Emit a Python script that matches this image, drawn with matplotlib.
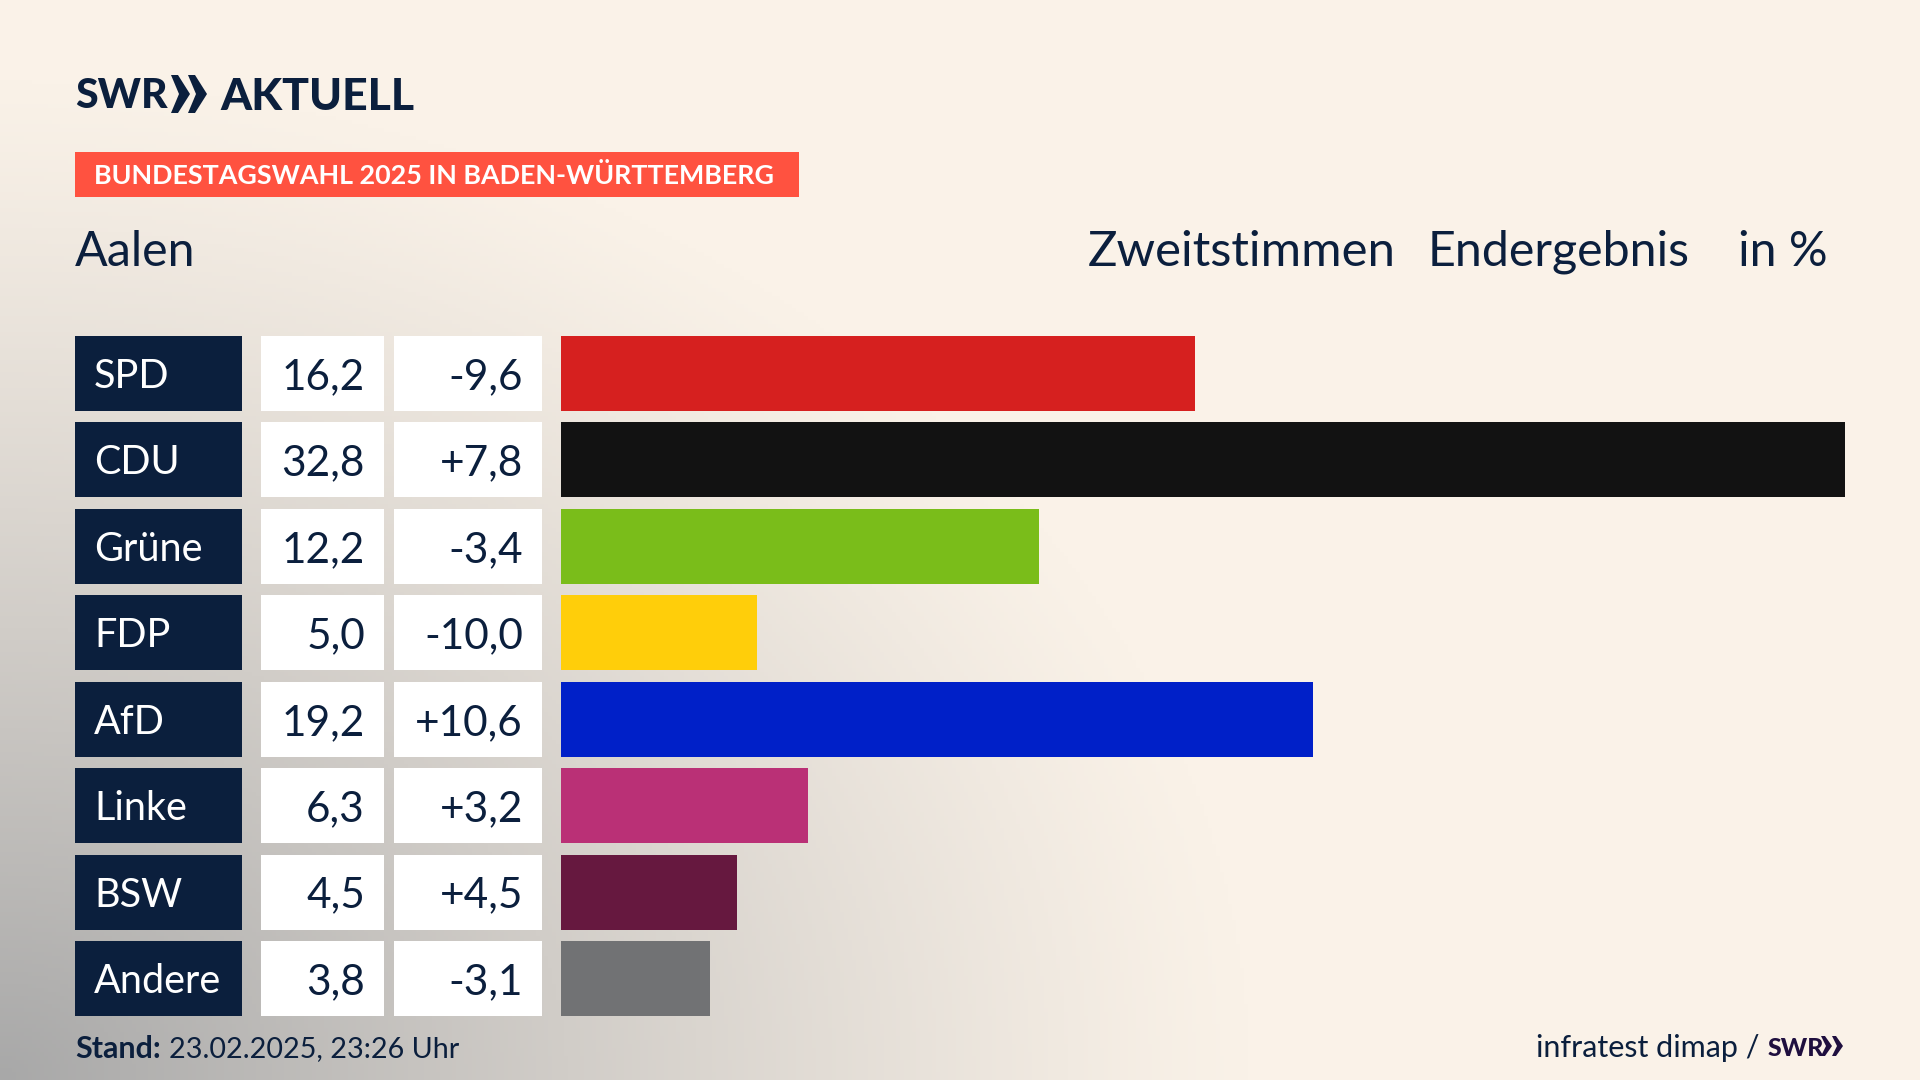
import numpy as np
import matplotlib
matplotlib.use("Agg")
import matplotlib.pyplot as plt
from matplotlib.patches import Rectangle, Polygon

parties = ["SPD", "CDU", "Grüne", "FDP", "AfD", "Linke", "BSW", "Andere"]
shares = [16.2, 32.8, 12.2, 5.0, 19.2, 6.3, 4.5, 3.8]
changes = [-9.6, 7.8, -3.4, -10.0, 10.6, 3.2, 4.5, -3.1]
colors = ["#D6201F", "#121212", "#7ABD1A", "#FFCE0A", "#0020C8", "#BA3076", "#66183F", "#717274"]

NAVY = "#0B1F3D"
W, H = 1920, 1080
plt.rcParams["font.family"] = ["Lato", "DejaVu Sans"]


def de(v, signed=False):
    s = f"{v:+.1f}" if signed else f"{v:.1f}"
    return s.replace(".", ",")


fig = plt.figure(figsize=(W / 100, H / 100), dpi=100)
bg = fig.add_axes([0, 0, 1, 1])
bg.set_xlim(0, W)
bg.set_ylim(H, 0)
bg.axis("off")

# soft backdrop: grey glow from the bottom-left corner
yy, xx = np.mgrid[0:H:270j, 0:W:480j]
d = np.sqrt((xx / 1250) ** 2 + ((H - yy) / 1000) ** 2)
t = np.clip(1 - d, 0, 1) ** 1.15
base = np.array([250, 242, 232]) / 255
grey = np.array([168, 168, 168]) / 255
img = base + (grey - base) * t[..., None]
bg.imshow(img, extent=[0, W, H, 0], aspect="auto", zorder=0)
bg.set_xlim(0, W)
bg.set_ylim(H, 0)

# header
bg.text(75, 93, "SWR", fontsize=29.5, fontweight="black", color=NAVY, va="center_baseline", ha="left")
for x0 in (171, 188):
    bg.add_patch(Polygon([[x0, 75], [x0 + 7, 75], [x0 + 19, 94], [x0 + 7, 113], [x0, 113], [x0 + 8, 94]],
                         closed=True, fc=NAVY, ec="none", zorder=3))
bg.text(220, 93, "AKTUELL", fontsize=32, fontweight="black", color=NAVY, va="center_baseline", ha="left")

bg.add_patch(Rectangle((75, 152), 724, 45, fc="#FF5240", ec="none", zorder=2))
bg.text(94, 174, "BUNDESTAGSWAHL 2025 IN BADEN-WÜRTTEMBERG", fontsize=19.4, fontweight="bold",
        color="white", va="center_baseline", ha="left", zorder=3)

bg.text(75, 247.5, "Aalen", fontsize=34.8, color=NAVY, va="center_baseline", ha="left")
bg.text(1088, 247.5, "Zweitstimmen", fontsize=35.4, color=NAVY, va="center_baseline", ha="left")
bg.text(1428, 247.5, "Endergebnis", fontsize=34.8, color=NAVY, va="center_baseline", ha="left")
bg.text(1738, 247.5, "in %", fontsize=34.8, color=NAVY, va="center_baseline", ha="left")

# bars on their own axes: x in percent, y in row index
top, pitch, bar_h = 336.0, 86.45, 75.0
n = len(parties)
x_left, x_right = 561, 1845
y_bottom = top + pitch * (n - 1) + bar_h
ax = fig.add_axes([x_left / W, 1 - y_bottom / H, (x_right - x_left) / W, (y_bottom - top) / H])
ax.patch.set_alpha(0)
ax.axis("off")
ax.set_xlim(0, max(shares))
ax.set_ylim(n - 1 + bar_h / pitch / 2, -bar_h / pitch / 2)
ax.barh(range(n), shares, height=bar_h / pitch, color=colors, edgecolor="none")

# table cells to the left of the bars
for i, (p, s, c) in enumerate(zip(parties, shares, changes)):
    y = top + pitch * i
    yc = y + bar_h / 2
    bg.add_patch(Rectangle((75, y), 167, bar_h, fc=NAVY, ec="none", zorder=2))
    bg.add_patch(Rectangle((261, y), 123, bar_h, fc="white", ec="none", zorder=2))
    bg.add_patch(Rectangle((394, y), 148, bar_h, fc="white", ec="none", zorder=2))
    bg.text(94, yc - 0.5, p, fontsize=28.5, color="white", va="center_baseline", ha="left", zorder=3)
    bg.text(365, yc, de(s), fontsize=30.5, color=NAVY, va="center_baseline", ha="right", zorder=3)
    bg.text(523, yc, de(c, True), fontsize=30.5, color=NAVY, va="center_baseline", ha="right", zorder=3)

# footer
bg.text(75, 1047, "Stand:", fontsize=22, fontweight="bold", color=NAVY, va="center_baseline", ha="left")
bg.text(169, 1047, "23.02.2025, 23:26 Uhr", fontsize=20.7, color=NAVY, va="center_baseline", ha="left")
bg.text(1760, 1046, "infratest dimap /", fontsize=22, color=NAVY, va="center_baseline", ha="right")
bg.text(1768, 1046, "SWR", fontsize=18, fontweight="black", color="#1F0F3F", va="center_baseline", ha="left")
for x0 in (1821, 1832):
    bg.add_patch(Polygon([[x0, 1036], [x0 + 4, 1036], [x0 + 11, 1046], [x0 + 4, 1056], [x0, 1056], [x0 + 5, 1046]],
                         closed=True, fc="#1F0F3F", ec="none", zorder=3))

fig.savefig("out.png", dpi=100)
